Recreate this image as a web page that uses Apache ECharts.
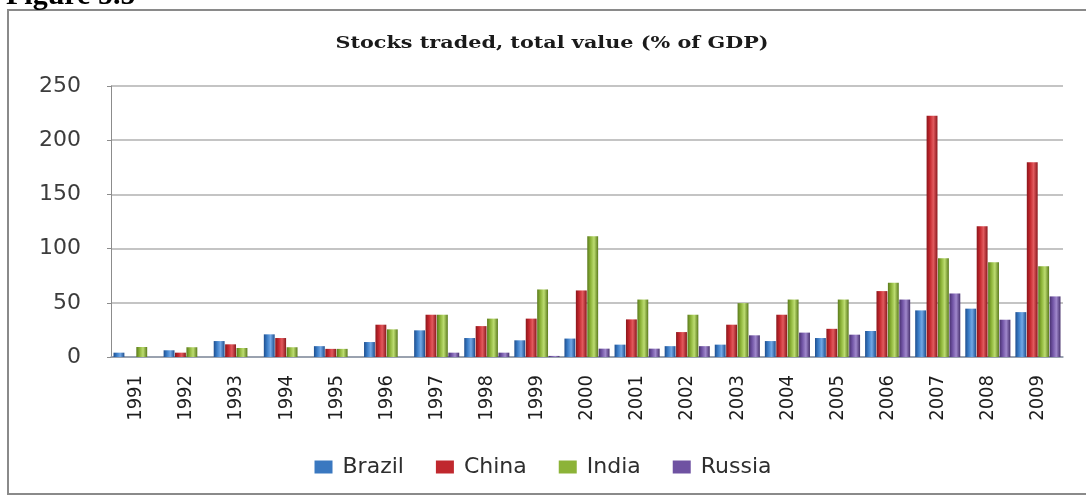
<!DOCTYPE html>
<html>
<head>
<meta charset="utf-8">
<title>Stocks traded, total value (% of GDP)</title>
<script src="https://cdn.jsdelivr.net/npm/echarts@6/dist/echarts.min.js"></script>
<style>
  html, body { margin: 0; padding: 0; background: #ffffff; }
  #chart { width: 1086px; height: 497px; }
</style>
</head>
<body>
<div id="chart"></div>
<script>
// Stocks traded, total value (% of GDP), 1991-2009
var years = ['1991', '1992', '1993', '1994', '1995', '1996', '1997', '1998', '1999', '2000',
             '2001', '2002', '2003', '2004', '2005', '2006', '2007', '2008', '2009'];

var brazil = [4, 6.2, 14.7, 20.9, 10, 13.8, 24.6, 17.5, 15.4, 17, 11.4, 10, 11.4, 14.7, 17.5, 24, 43, 44.6, 41.4];
var china  = [0, 4, 11.7, 17.5, 7.5, 29.8, 39, 28.5, 35.4, 61.4, 34.7, 23, 29.8, 39, 26, 60.8, 222.6, 120.6, 179.6];
var india  = [9.2, 9, 8.3, 9, 7.5, 25.5, 39, 35.4, 62.3, 111.4, 53, 39, 49.7, 53, 53, 68.5, 91.2, 87.5, 83.8];
var russia = ['-', '-', '-', '-', '-', '-', 4, 4, 1, 7.7, 7.7, 10, 20, 22.5, 20.6, 53, 58.6, 34.4, 55.9];

var yTicks = { min: 0, max: 250, interval: 50 };

// cylinder-like shading across each bar
function shade(dark, base, light) {
  return new echarts.graphic.LinearGradient(0, 0, 1, 0, [
    { offset: 0, color: dark },
    { offset: 0.3, color: base },
    { offset: 0.62, color: light },
    { offset: 1, color: dark }
  ]);
}

var palette = {
  Brazil: shade('#1f4f8f', '#3a7cc6', '#72a8e6'),
  China:  shade('#8a171c', '#c4262c', '#e25a5e'),
  India:  shade('#5a7a1c', '#8cb338', '#bcdc70'),
  Russia: shade('#47306e', '#7255a6', '#a088cc')
};
var legendColors = { Brazil: '#3a78c0', China: '#c0282e', India: '#8cb338', Russia: '#6f52a2' };

function barSeries(name, values) {
  return {
    name: name,
    type: 'bar',
    data: values,
    barGap: '5%',
    barCategoryGap: '10%',
    itemStyle: { color: palette[name] }
  };
}

var chart = echarts.init(document.getElementById('chart'), null, { renderer: 'canvas' });

chart.setOption({
  animation: false,
  backgroundColor: '#ffffff',
  graphic: [
    {
      type: 'rect',
      shape: { x: 8, y: 10, width: 1090, height: 484 },
      style: { fill: 'none', stroke: '#8a8a8a', lineWidth: 2 },
      silent: true
    },
    {
      // page heading above the framed chart
      type: 'text',
      x: 6,
      y: -19,
      style: {
        text: 'Figure 5.5',
        font: 'bold 30px "Liberation Serif", serif',
        fill: '#000000'
      },
      silent: true
    },
    {
      // chart title, set in a wide serif
      type: 'text',
      x: 552,
      y: 44,
      scaleX: 1.22,
      style: {
        text: 'Stocks traded, total value (% of GDP)',
        font: 'bold 17px "DejaVu Serif", serif',
        fill: '#1a1a1a',
        align: 'center',
        verticalAlign: 'middle'
      },
      silent: true
    }
  ],
  legend: {
    data: ['Brazil', 'China', 'India', 'Russia'].map(function (n) {
      return { name: n, itemStyle: { color: legendColors[n] } };
    }),
    left: 'center',
    top: 451,
    itemWidth: 18,
    itemHeight: 13,
    itemGap: 32,
    icon: 'rect',
    textStyle: { fontFamily: 'DejaVu Sans', fontSize: 22, color: '#2e2e2e', padding: [0, 0, 0, 5] }
  },
  grid: { left: 111, right: 23, top: 86, bottom: 140 },
  xAxis: {
    type: 'category',
    data: years,
    axisLine: { lineStyle: { color: '#8c96a8', width: 1.5 } },
    axisTick: { show: false },
    axisLabel: {
      rotate: 90,
      interval: 0,
      margin: 18,
      fontFamily: 'DejaVu Sans Condensed',
      fontSize: 20,
      color: '#1e1e1e'
    }
  },
  yAxis: {
    type: 'value',
    min: yTicks.min,
    max: yTicks.max,
    interval: yTicks.interval,
    axisLine: { show: true, lineStyle: { color: '#8c8c8c', width: 1 } },
    axisTick: { show: true, length: 4, lineStyle: { color: '#8c8c8c' } },
    axisLabel: { margin: 30, fontFamily: 'DejaVu Sans', fontSize: 22, color: '#3c3c3c' },
    splitLine: { lineStyle: { color: '#b0b0b0', width: 1.5 } }
  },
  series: [
    barSeries('Brazil', brazil),
    barSeries('China', china),
    barSeries('India', india),
    barSeries('Russia', russia)
  ]
});
</script>
</body>
</html>
